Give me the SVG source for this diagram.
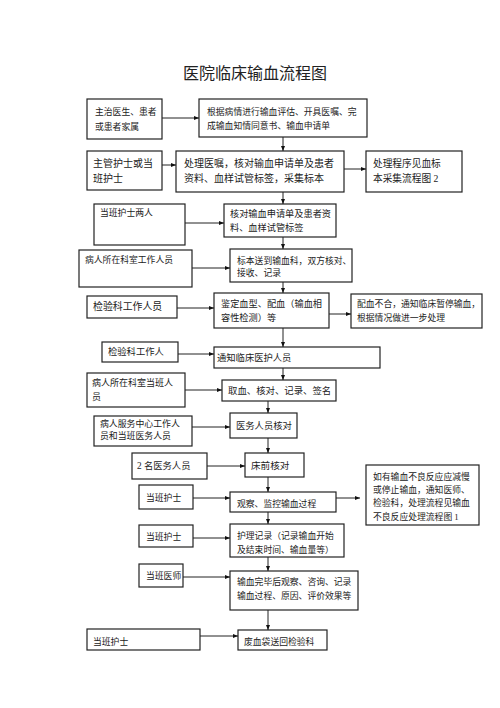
<svg xmlns="http://www.w3.org/2000/svg" width="500" height="708" viewBox="0 0 500 708">
<defs>
<marker id="ah" viewBox="0 0 10 10" refX="10" refY="5" markerWidth="5" markerHeight="5" orient="auto" markerUnits="userSpaceOnUse">
<path d="M0,1 L10,5 L0,9 Z" fill="#111"/>
</marker>
</defs>
<style>
.b{fill:#fff;stroke:#222;stroke-width:1.2}
.t{font-family:"Liberation Serif","Noto Sans CJK SC",serif;fill:#222;font-size:8.8px}
.c{stroke:#222;stroke-width:1;fill:none;marker-end:url(#ah)}
.ttl{font-family:"Noto Sans CJK SC",sans-serif;font-size:16px;fill:#222}
</style>
<rect width="500" height="708" fill="#fff"/>
<text class="ttl" x="255" y="79" text-anchor="middle">医院临床输血流程图</text>

<g id="a"><rect class="b" x="87" y="99" width="75" height="40"/><text class="t" x="95" y="115" font-size="8.5">主治医生、患者</text><text class="t" x="95" y="130" font-size="8.5">或患者家属</text></g>
<g id="b"><rect class="b" x="199" y="99" width="168" height="38"/><text class="t" x="207" y="115">根据病情进行输血评估、开具医嘱、完</text><text class="t" x="207" y="129">成输血知情同意书、输血申请单</text></g>
<g id="cl"><rect class="b" x="87" y="151" width="75" height="39"/><text class="t" x="93" y="167" style="font-size:10px">主管护士或当</text><text class="t" x="93" y="182" style="font-size:10px">班护士</text></g>
<g id="c"><rect class="b" x="176" y="151" width="168" height="41"/><text class="t" x="184" y="167" style="font-size:10px">处理医嘱，核对输血申请单及患者</text><text class="t" x="184" y="182" style="font-size:10px">资料、血样试管标签，采集标本</text></g>
<g id="cr"><rect class="b" x="366" y="151" width="96" height="41"/><text class="t" x="373" y="167" style="font-size:9.7px">处理程序见血标</text><text class="t" x="373" y="182" style="font-size:9.7px">本采集流程图 2</text></g>
<g id="dl"><rect class="b" x="94" y="204" width="91" height="41"/><text class="t" x="100" y="216" font-size="8.6">当班护士两人</text></g>
<g id="d"><rect class="b" x="224" y="204" width="112" height="33"/><text class="t" x="230" y="217" style="font-size:9.2px">核对输血申请单及患者资</text><text class="t" x="230" y="231" style="font-size:9.2px">料、血样试管标签</text></g>
<g id="el"><rect class="b" x="79" y="250" width="113" height="37"/><text class="t" x="85" y="263" font-size="8.7">病人所在科室工作人员</text></g>
<g id="e"><rect class="b" x="230" y="249" width="122" height="33"/><text class="t" x="237" y="264" font-size="8.5">标本送到输血科，双方核对、</text><text class="t" x="237" y="276" font-size="8.5">接收、记录</text></g>
<g id="fl"><rect class="b" x="87" y="296" width="90" height="22"/><text class="t" x="93" y="310" style="font-size:9.9px">检验科工作人员</text></g>
<g id="f"><rect class="b" x="214" y="293" width="115" height="35"/><text class="t" x="221" y="307" style="font-size:9.2px">鉴定血型、配血（输血相</text><text class="t" x="221" y="321" style="font-size:9.2px">容性检测）等</text></g>
<g id="fr"><rect class="b" x="351" y="294" width="131" height="34"/><text class="t" x="357" y="307" font-size="8.4">配血不合，通知临床暂停输血，</text><text class="t" x="357" y="321" font-size="8.4">根据情况做进一步处理</text></g>
<g id="gl"><rect class="b" x="102" y="342" width="76" height="20"/><text class="t" x="108" y="355" style="font-size:9.3px">检验科工作人</text></g>
<g id="g"><rect class="b" x="214" y="347" width="166" height="21"/><text class="t" x="217" y="361" style="font-size:9.3px">通知临床医护人员</text></g>
<g id="hl"><rect class="b" x="87" y="373" width="98" height="34"/><text class="t" x="92" y="386" style="font-size:9px">病人所在科室当班人</text><text class="t" x="92" y="400" style="font-size:9px">员</text></g>
<g id="h"><rect class="b" x="222" y="380" width="114" height="21"/><text class="t" x="228" y="394" style="font-size:9.4px">取血、核对、记录、签名</text></g>
<g id="il"><rect class="b" x="94" y="416" width="98" height="30"/><text class="t" x="100" y="427" style="font-size:8.9px">病人服务中心工作人</text><text class="t" x="100" y="439" style="font-size:8.9px">员和当班医务人员</text></g>
<g id="i"><rect class="b" x="230" y="413" width="67" height="25"/><text class="t" x="236" y="429" style="font-size:9.3px">医务人员核对</text></g>
<g id="jl"><rect class="b" x="132" y="453" width="75" height="26"/><text class="t" x="137" y="469" style="font-size:9.3px">2 名医务人员</text></g>
<g id="j"><rect class="b" x="245" y="453" width="59" height="24"/><text class="t" x="251" y="469" style="font-size:9.6px">床前核对</text></g>
<g id="kl"><rect class="b" x="139" y="485" width="54" height="24"/><text class="t" x="146" y="501" font-size="8.5">当班护士</text></g>
<g id="k"><rect class="b" x="230" y="492" width="106" height="20"/><text class="t" x="237" y="507">观察、监控输血过程</text></g>
<g id="kr"><rect class="b" x="366" y="465" width="113" height="60"/><text class="t" x="373" y="480" font-size="8.7">如有输血不良反应应减慢</text><text class="t" x="373" y="493" font-size="8.7">或停止输血，通知医师、</text><text class="t" x="373" y="506" font-size="8.7">检验科，处理流程见输血</text><text class="t" x="373" y="520" font-size="8.7">不良反应处理流程图 1</text></g>
<g id="ll"><rect class="b" x="139" y="525" width="54" height="22"/><text class="t" x="146" y="540" font-size="8.5">当班护士</text></g>
<g id="l"><rect class="b" x="230" y="524" width="114" height="33"/><text class="t" x="237" y="539" font-size="8.7">护理记录（记录输血开始</text><text class="t" x="237" y="553" font-size="8.7">及结束时间、输血量等）</text></g>
<g id="ml"><rect class="b" x="139" y="564" width="44" height="23"/><text class="t" x="146" y="579" font-size="8.5">当班医师</text></g>
<g id="m"><rect class="b" x="230" y="571" width="128" height="39"/><text class="t" x="237" y="585" font-size="8.7">输血完毕后观察、咨询、记录</text><text class="t" x="237" y="599" font-size="8.7">输血过程、原因、评价效果等</text></g>
<g id="nl"><rect class="b" x="87" y="629" width="113" height="21"/><text class="t" x="93" y="645" font-size="8.5">当班护士</text></g>
<g id="n"><rect class="b" x="238" y="630" width="89" height="20"/><text class="t" x="244" y="645" font-size="8.6">废血袋送回检验科</text></g>

<g id="connectors">
<line class="c" x1="162" y1="118" x2="199" y2="118"/>
<line class="c" x1="283" y1="137" x2="283" y2="151"/>
<line class="c" x1="162" y1="165" x2="176" y2="165"/>
<line class="c" x1="344" y1="169" x2="366" y2="169"/>
<line class="c" x1="283" y1="192" x2="283" y2="204"/>
<line class="c" x1="185" y1="223" x2="224" y2="223"/>
<line class="c" x1="283" y1="237" x2="283" y2="249"/>
<line class="c" x1="192" y1="268" x2="230" y2="268"/>
<line class="c" x1="283" y1="282" x2="283" y2="293"/>
<line class="c" x1="177" y1="308" x2="214" y2="308"/>
<line class="c" x1="329" y1="314" x2="351" y2="314"/>
<line class="c" x1="283" y1="328" x2="283" y2="347"/>
<line class="c" x1="178" y1="354" x2="214" y2="354"/>
<line class="c" x1="283" y1="368" x2="283" y2="380"/>
<line class="c" x1="185" y1="390" x2="222" y2="390"/>
<line class="c" x1="268" y1="401" x2="268" y2="413"/>
<line class="c" x1="192" y1="427" x2="230" y2="427"/>
<line class="c" x1="268" y1="438" x2="268" y2="453"/>
<line class="c" x1="207" y1="466" x2="245" y2="466"/>
<line class="c" x1="268" y1="477" x2="268" y2="492"/>
<line class="c" x1="193" y1="498" x2="230" y2="498"/>
<line class="c" x1="336" y1="498" x2="360" y2="498"/>
<line class="c" x1="268" y1="512" x2="268" y2="524"/>
<line class="c" x1="193" y1="538" x2="230" y2="538"/>
<line class="c" x1="268" y1="557" x2="268" y2="571"/>
<line class="c" x1="183" y1="577" x2="230" y2="577"/>
<line class="c" x1="268" y1="610" x2="268" y2="630"/>
<line class="c" x1="200" y1="636" x2="238" y2="636"/>
</g>
</svg>
